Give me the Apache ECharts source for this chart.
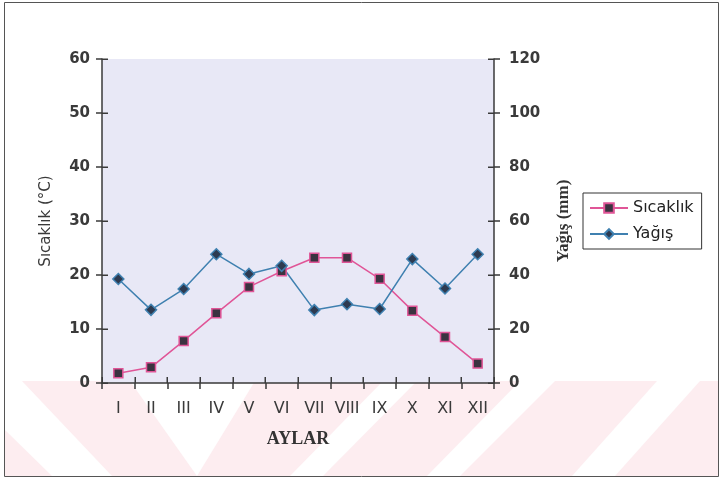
<!DOCTYPE html>
<html>
<head>
<meta charset="utf-8">
<script src="https://cdn.jsdelivr.net/npm/echarts@6/dist/echarts.min.js"></script>
<style>html,body{margin:0;padding:0;background:#fff}#c{width:721px;height:480px}</style>
</head>
<body>
<div id="c"></div>
<script>
var months = ['I','II','III','IV','V','VI','VII','VIII','IX','X','XI','XII'];
var sicaklik = [1.8, 2.9, 7.8, 12.9, 17.8, 20.7, 23.2, 23.2, 19.3, 13.4, 8.5, 3.6];
var yagis = [38.5, 27.1, 34.8, 47.7, 40.4, 43.4, 27.0, 29.2, 27.4, 45.9, 35.0, 47.7];
var leftTicks = {min: 0, max: 60, interval: 10};
var rightTicks = {min: 0, max: 120, interval: 20};

var chart = echarts.init(document.getElementById('c'), null, {renderer: 'canvas'});
var axisCol = '#3a3a3a';
var sans = 'DejaVu Sans, Verdana, sans-serif';
var serif = 'Liberation Serif, Times New Roman, serif';
var lbl = {color: '#3a3a3a', fontFamily: sans, fontSize: 15, fontWeight: 'bold'};
var pink = '#fdedf0';

function poly(pts) {
  return {type: 'polygon', z: -10, silent: true, shape: {points: pts}, style: {fill: '#fff'}};
}
var baseGraphic = [
  {type: 'rect', z: -20, silent: true, shape: {x: 5, y: 381, width: 714, height: 95}, style: {fill: pink}},
  poly([[5,381],[22,381],[112,476],[52,476],[5,430]]),
  poly([[130,381],[255,381],[197,476]]),
  poly([[383,381],[417,381],[323,476],[290,476]]),
  poly([[520,381],[555,381],[460,476],[427,476]]),
  poly([[657,381],[700,381],[615,476],[572,476]]),
  {type: 'rect', z: 100, silent: true, shape: {x: 4.5, y: 2.5, width: 714, height: 474}, style: {fill: 'none', stroke: '#555', lineWidth: 1}}
];

chart.setOption({
  animation: false,
  backgroundColor: '#fff',
  graphic: baseGraphic,
  grid: {left: 102, right: 227, top: 59, bottom: 97, show: true, backgroundColor: '#e8e8f6', borderWidth: 0},
  legend: {
    orient: 'vertical', left: 583, top: 193,
    padding: [7, 8, 7, 6], itemGap: 10,
    borderColor: '#333', borderWidth: 1, backgroundColor: '#fff',
    itemWidth: 38, itemHeight: 12,
    textStyle: {color: '#222', fontFamily: sans, fontSize: 16},
    data: ['Sıcaklık', 'Yağış']
  },
  xAxis: {
    type: 'category', data: months, boundaryGap: true,
    axisLine: {lineStyle: {color: axisCol, width: 1.5}},
    axisTick: {show: true, length: 6, lineStyle: {color: axisCol, width: 1.5}},
    axisLabel: {margin: 18, color: '#3a3a3a', fontFamily: sans, fontSize: 16},
    name: 'AYLAR', nameLocation: 'middle', nameGap: 47,
    nameTextStyle: {fontFamily: serif, fontWeight: 'bold', fontSize: 18, color: '#333'}
  },
  yAxis: [{
    type: 'value', position: 'left', min: leftTicks.min, max: leftTicks.max, interval: leftTicks.interval,
    splitLine: {show: false},
    axisLine: {show: true, lineStyle: {color: axisCol, width: 1.5}},
    axisTick: {show: true, length: 6, lineStyle: {color: axisCol, width: 1.5}},
    axisLabel: Object.assign({margin: 12}, lbl),
    name: 'Sıcaklık (°C)', nameLocation: 'middle', nameGap: 48, nameRotate: 90,
    nameTextStyle: {fontFamily: sans, fontSize: 15, color: '#3a3a3a'}
  }, {
    type: 'value', position: 'right', min: rightTicks.min, max: rightTicks.max, interval: rightTicks.interval,
    splitLine: {show: false},
    axisLine: {show: true, lineStyle: {color: axisCol, width: 1.5}},
    axisTick: {show: true, length: 6, lineStyle: {color: axisCol, width: 1.5}},
    axisLabel: Object.assign({margin: 15}, lbl),
    name: 'Yağış (mm)', nameLocation: 'middle', nameGap: 61, nameRotate: 90,
    nameTextStyle: {fontFamily: serif, fontWeight: 'bold', fontSize: 17, color: '#333'}
  }],
  series: [{
    name: 'Sıcaklık', type: 'line', data: sicaklik, yAxisIndex: 0, z: 10,
    symbol: 'rect', symbolSize: 9,
    lineStyle: {color: '#e05597', width: 1.5},
    itemStyle: {color: '#3a3340', borderColor: '#e05597', borderWidth: 1.5}
  }, {
    name: 'Yağış', type: 'line', data: yagis, yAxisIndex: 1, z: 10,
    symbol: 'diamond', symbolSize: 11,
    lineStyle: {color: '#3f80b0', width: 1.5},
    itemStyle: {color: '#2d3a50', borderColor: '#3f80b0', borderWidth: 1.5}
  }]
});

// inner halves of the crossing ticks, positioned through the chart's own scales
(function () {
  var tickLen = 6;
  var c0 = chart.convertToPixel({xAxisIndex: 0}, 0);
  var c1 = chart.convertToPixel({xAxisIndex: 0}, 1);
  var band = c1 - c0;
  var xL = c0 - band / 2;
  var xR = chart.convertToPixel({xAxisIndex: 0}, months.length - 1) + band / 2;
  var yB = chart.convertToPixel({yAxisIndex: 0}, leftTicks.min);
  var ticks = [];
  function seg(x1, y1, x2, y2) {
    ticks.push({type: 'line', z: 50, silent: true, shape: {x1: x1, y1: y1, x2: x2, y2: y2},
      style: {stroke: axisCol, lineWidth: 1.5}});
  }
  for (var v = leftTicks.min; v <= leftTicks.max; v += leftTicks.interval) {
    var y = Math.round(chart.convertToPixel({yAxisIndex: 0}, v)) + 0.25;
    seg(xL, y, xL + tickLen, y);
  }
  for (var w = rightTicks.min; w <= rightTicks.max; w += rightTicks.interval) {
    var y2 = Math.round(chart.convertToPixel({yAxisIndex: 1}, w)) + 0.25;
    seg(xR - tickLen, y2, xR, y2);
  }
  for (var i = 0; i <= months.length; i++) {
    var x = Math.round(c0 - band / 2 + i * band) + 0.25;
    seg(x, yB - tickLen, x, yB);
  }
  chart.setOption({graphic: baseGraphic.concat(ticks)});
})();
</script>
</body>
</html>
